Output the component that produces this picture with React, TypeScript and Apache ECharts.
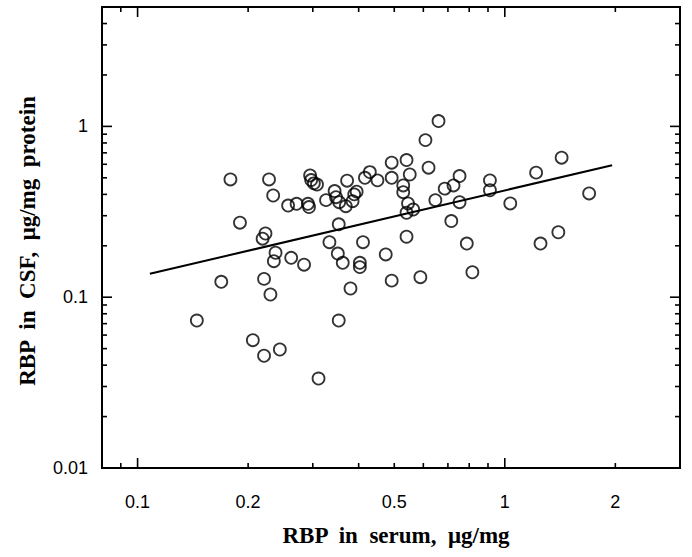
import React, { useEffect, useRef } from "react";
import * as echarts from "echarts";

// RBP in serum (µg/mg)
const serumRBP = [
  0.179, 0.228, 0.234, 0.257, 0.271, 0.295, 0.297, 0.302, 0.308, 0.291,
  0.293, 0.326, 0.344, 0.347, 0.354, 0.369, 0.372, 0.385, 0.389, 0.395,
  0.416, 0.429, 0.45, 0.492, 0.492, 0.19, 0.223, 0.219, 0.353, 0.333,
  0.411, 0.2375, 0.235, 0.262, 0.284, 0.351, 0.362, 0.403, 0.403, 0.474,
  0.492, 0.169, 0.221, 0.23, 0.38, 0.145, 0.353, 0.206, 0.244, 0.221,
  0.311,
  0.54, 0.551, 0.529, 0.529, 0.545, 0.54, 0.563, 0.66, 0.608, 0.62,
  0.647, 0.686, 0.725, 0.753, 0.753, 0.715, 0.54, 0.589, 0.788, 0.816,
  0.911, 0.911, 1.035, 1.217, 1.428, 1.697, 1.251, 1.399,
];
// RBP in CSF (µg/mg protein)
const csfRBP = [
  0.489, 0.489, 0.394, 0.344, 0.352, 0.516, 0.485, 0.464, 0.457, 0.352,
  0.337, 0.37, 0.418, 0.385, 0.36, 0.341, 0.481, 0.365, 0.4, 0.415,
  0.5, 0.54, 0.483, 0.613, 0.5, 0.273, 0.236, 0.22, 0.267, 0.21,
  0.21, 0.182, 0.1625, 0.17, 0.155, 0.18, 0.159, 0.159, 0.15, 0.178,
  0.125, 0.123, 0.128, 0.1037, 0.1124, 0.073, 0.073, 0.056, 0.0494, 0.0454,
  0.0334,
  0.635, 0.523, 0.451, 0.412, 0.354, 0.312, 0.326, 1.074, 0.831, 0.573,
  0.37, 0.432, 0.451, 0.512, 0.36, 0.279, 0.226, 0.131, 0.206, 0.14,
  0.483, 0.423, 0.354, 0.536, 0.656, 0.405, 0.206, 0.24,
];

// regression line end points
const fitX = [0.108, 1.96];
const fitY = [0.137, 0.593];

// axes
const xMin = 0.08;
const xMax = 3;
const yMin = 0.01;
const yMax = 5;
const xLabelValues = [0.1, 0.2, 0.5, 1, 2];
const xLabelTexts = ["0.1", "0.2", "0.5", "1", "2"];
const yLabelValues = [0.01, 0.1, 1];
const yLabelTexts = ["0.01", "0.1", "1"];
const xMajorTicks = [0.1, 1];
const xMinorTicks = [0.09, 0.2, 0.3, 0.4, 0.5, 0.6, 0.7, 0.8, 0.9, 2];
const yMajorTicks = [0.01, 0.1, 1];
const yMinorTicks = [
  0.02, 0.03, 0.04, 0.05, 0.06, 0.07, 0.08, 0.09,
  0.2, 0.3, 0.4, 0.5, 0.6, 0.7, 0.8, 0.9,
  2, 3, 4,
];

const xTitle = "RBP  in  serum,  μg/mg";
const yTitle = "RBP  in  CSF,  μg/mg  protein";

export default function App() {
  const ref = useRef<HTMLDivElement>(null);

  useEffect(() => {
    if (!ref.current) return;
    const chart = echarts.init(ref.current, null, { renderer: "svg" });
    const points = serumRBP.map((v, i) => [v, csfRBP[i]]);
    const fit = fitX.map((v, i) => [v, fitY[i]]);

    chart.setOption({
      animation: false,
      backgroundColor: "#fff",
      grid: {
        left: 102,
        top: 7,
        right: 12,
        bottom: 89,
        show: true,
        borderColor: "#000",
        borderWidth: 2,
        backgroundColor: "transparent",
      },
      xAxis: {
        type: "log",
        logBase: 10,
        min: xMin,
        max: xMax,
        axisLine: { show: false },
        axisTick: { show: false },
        axisLabel: { show: false },
        splitLine: { show: false },
      },
      yAxis: {
        type: "log",
        logBase: 10,
        min: yMin,
        max: yMax,
        axisLine: { show: false },
        axisTick: { show: false },
        axisLabel: { show: false },
        splitLine: { show: false },
      },
      series: [
        {
          type: "line",
          data: fit,
          symbol: "none",
          lineStyle: { color: "#000", width: 2 },
          z: 3,
        },
        {
          type: "scatter",
          data: points,
          symbol: "circle",
          symbolSize: 12,
          itemStyle: {
            color: "rgba(0,0,0,0)",
            borderColor: "#000",
            borderWidth: 1.8,
          },
          z: 4,
        },
      ],
    });

    const px = (x: number, y: number) =>
      chart.convertToPixel({ gridIndex: 0 }, [x, y]) as number[];
    const [left, bottom] = px(xMin, yMin);
    const [right, top] = px(xMax, yMax);

    const elements: any[] = [];
    const tickStyle = { stroke: "#000", lineWidth: 1.6 };
    const addXTick = (v: number, len: number) => {
      const x = px(v, yMin)[0];
      elements.push({ type: "line", shape: { x1: x, y1: bottom, x2: x, y2: bottom - len }, style: tickStyle });
      elements.push({ type: "line", shape: { x1: x, y1: top, x2: x, y2: top + len }, style: tickStyle });
    };
    const addYTick = (v: number, len: number) => {
      const y = px(xMin, v)[1];
      elements.push({ type: "line", shape: { x1: left, y1: y, x2: left + len, y2: y }, style: tickStyle });
      elements.push({ type: "line", shape: { x1: right, y1: y, x2: right - len, y2: y }, style: tickStyle });
    };
    xMajorTicks.forEach((v) => addXTick(v, 10));
    xMinorTicks.forEach((v) => addXTick(v, 5));
    yMajorTicks.forEach((v) => addYTick(v, 10));
    yMinorTicks.forEach((v) => addYTick(v, 5));

    xLabelValues.forEach((v, i) => {
      const x = px(v, yMin)[0];
      elements.push({
        type: "text",
        x,
        y: 502,
        style: {
          text: xLabelTexts[i],
          align: "center",
          verticalAlign: "middle",
          font: '18px "Liberation Sans", Arial, sans-serif',
          fill: "#000",
        },
      });
    });
    yLabelValues.forEach((v, i) => {
      const y = px(xMin, v)[1];
      elements.push({
        type: "text",
        x: 88,
        y,
        style: {
          text: yLabelTexts[i],
          align: "right",
          verticalAlign: "middle",
          font: '18px "Liberation Sans", Arial, sans-serif',
          fill: "#000",
        },
      });
    });
    elements.push({
      type: "text",
      x: 396,
      y: 535,
      style: {
        text: xTitle,
        align: "center",
        verticalAlign: "middle",
        font: 'bold 23px "Liberation Serif", "Times New Roman", serif',
        fill: "#000",
      },
    });
    elements.push({
      type: "text",
      x: 27,
      y: 241,
      rotation: Math.PI / 2,
      style: {
        text: yTitle,
        align: "center",
        verticalAlign: "middle",
        font: 'bold 23px "Liberation Serif", "Times New Roman", serif',
        fill: "#000",
      },
    });

    chart.setOption({ graphic: elements });

    return () => chart.dispose();
  }, []);

  return (
    <div
      ref={ref}
      style={{ position: "absolute", left: 0, top: 0, width: 692, height: 557 }}
    />
  );
}
